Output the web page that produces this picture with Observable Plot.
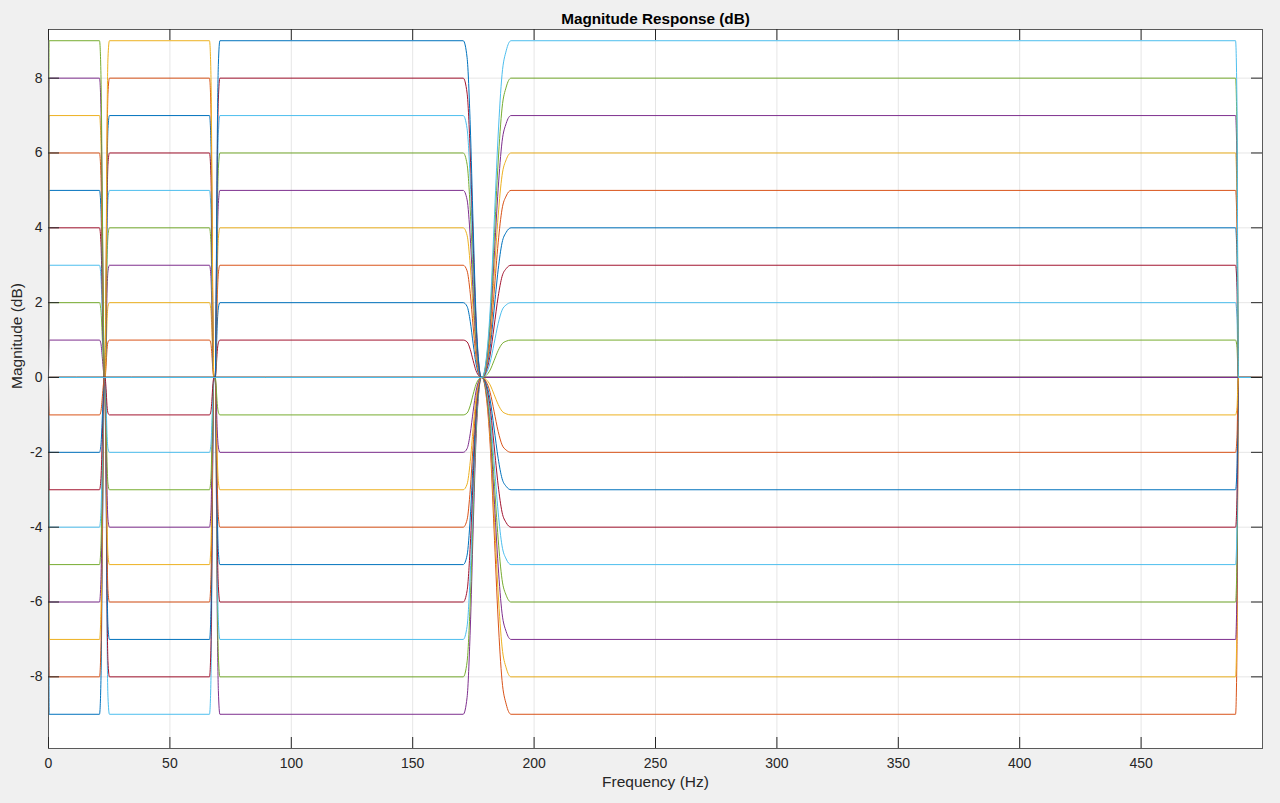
<!DOCTYPE html>
<html>
<head>
<meta charset="utf-8">
<script src="https://cdn.jsdelivr.net/npm/d3@7"></script>
<script src="https://cdn.jsdelivr.net/npm/@observablehq/plot@0.6"></script>
<style>
  html, body { margin: 0; padding: 0; background: #f0f0f0; }
  #chart svg { display: block; }
</style>
</head>
<body>
<div id="chart"></div>
<script>
// Band gains swept for each of the four bands (dB)
const gains = [-9, -8, -7, -6, -5, -4, -3, -2, -1, 0, 1, 2, 3, 4, 5, 6, 7, 8, 9];

// Normalised magnitude profile of each band (frequency in Hz, fraction of the band gain)
const band1F = [0, 0.25, 21.0, 21.6, 22.2, 22.6, 23.0];
const band1W = [0, 1, 1, 0.9, 0.5, 0.2, 0];
const band2F = [23.3, 23.7, 24.1, 24.5, 25.1, 66.3, 66.9, 67.3, 67.7, 68.1];
const band2W = [0, 0.3, 0.75, 0.95, 1, 1, 0.9, 0.6, 0.2, 0];
const band3F = [68.7, 69.1, 69.5, 69.96, 70.6, 170.8, 172.4, 173.7, 174.9, 176.1, 177.4, 178.2];
const band3W = [0, 0.3, 0.7, 0.93, 1, 1, 0.95, 0.75, 0.45, 0.18, 0.03, 0];
const band4F = [178.6, 180.2, 181.9, 183.5, 185.2, 186.8, 188.5, 190.5, 488.9, 489.5, 489.8, 490.1];
const band4W = [0, 0.05, 0.2, 0.45, 0.72, 0.9, 0.97, 1, 1, 0.8, 0.3, 0];

const freqMax = 500;

// Axis ticks
const xTicks = [0, 50, 100, 150, 200, 250, 300, 350, 400, 450];
const yTicks = [-8, -6, -4, -2, 0, 2, 4, 6, 8];
const yDomain = [-9.9147, 9.30];

// MATLAB default colour order
const colorOrder = ["#0072BD", "#D95319", "#EDB120", "#7E2F8E", "#77AC30", "#4DBEEE", "#A2142F"];

const bands = [[band1F, band1W], [band2F, band2W], [band3F, band3W], [band4F, band4W]];

const lines = [];
bands.forEach(([F, W]) => {
  gains.forEach(g => {
    const pts = [];
    if (F[0] > 0) pts.push({f: 0, db: 0});
    F.forEach((f, i) => pts.push({f, db: g * W[i]}));
    if (F[F.length - 1] < freqMax) pts.push({f: freqMax, db: 0});
    lines.push(pts);
  });
});

const W0 = 1280, H0 = 803;
const mL = 48, mR = 18, mT = 29, mB = 55;
const frameW = W0 - mL - mR, frameH = H0 - mT - mB;
const tickLen = 11;
const font = "'Liberation Sans', Arial, Helvetica, sans-serif";

function render(lineDy) {
  const marks = [
    Plot.frame({fill: "white", stroke: null}),
    Plot.gridX(xTicks, {stroke: "#000", strokeOpacity: 0.1}),
    Plot.gridY(yTicks, {stroke: "#000", strokeOpacity: 0.1}),
    ...lines.map((pts, i) => Plot.line(pts, {
      x: "f", y: "db", stroke: colorOrder[i % 7], strokeWidth: 1, curve: "monotone-x", dy: lineDy
    })),
    Plot.frame({stroke: "#5a5a5a", strokeWidth: 1}),
    Plot.tickX(xTicks, {x: d => d, insetBottom: frameH - tickLen, stroke: "#262626"}),
    Plot.tickX(xTicks, {x: d => d, insetTop: frameH - tickLen, stroke: "#262626"}),
    Plot.tickY(yTicks, {y: d => d, insetRight: frameW - tickLen, stroke: "#262626"}),
    Plot.tickY(yTicks, {y: d => d, insetLeft: frameW - tickLen, stroke: "#262626"}),
    Plot.axisX(xTicks, {anchor: "bottom", tickSize: 0, tickPadding: 10, tickFormat: d => String(d),
      fontSize: 14, label: null, fill: "#262626"}),
    Plot.axisY(yTicks, {anchor: "left", tickSize: 0, tickPadding: 6, tickFormat: d => String(d),
      fontSize: 14, label: null, fill: "#262626"}),
    Plot.text(["Frequency (Hz)"], {text: d => d, frameAnchor: "bottom", lineAnchor: "middle", dy: 34,
      fontSize: 15.5, fill: "#262626"}),
    Plot.text(["Magnitude (dB)"], {text: d => d, frameAnchor: "left", lineAnchor: "middle", dx: -31, rotate: -90,
      fontSize: 15.5, fill: "#262626"}),
    Plot.text(["Magnitude Response (dB)"], {text: d => d, frameAnchor: "top", lineAnchor: "middle", dy: -10,
      fontSize: 15.3, fontWeight: "bold", fill: "#000"})
  ];
  return Plot.plot({
    width: W0,
    height: H0,
    marginLeft: mL,
    marginRight: mR,
    marginTop: mT,
    marginBottom: mB,
    style: {background: "#f0f0f0", fontFamily: font},
    x: {domain: [0, freqMax], axis: null},
    y: {domain: yDomain, axis: null},
    marks
  });
}

// Align the (heavily overdrawn) 0 dB level with a pixel row so the top-most line colour shows cleanly
let chart = render(0);
const lineGroup = chart.querySelector('g[aria-label="line"]');
const tr = lineGroup ? (lineGroup.getAttribute("transform") || "") : "";
const mt = /translate\(\s*([-\d.e]+)[ ,]+([-\d.e]+)\s*\)/.exec(tr);
const ty = mt ? +mt[2] : 0;
const y0 = chart.scale("y").apply(0) + ty;
const frac = y0 - Math.floor(y0);
if (Math.abs(frac - 0.5) > 1e-3) chart = render(0.5 - frac);
document.getElementById("chart").appendChild(chart);
</script>
</body>
</html>
